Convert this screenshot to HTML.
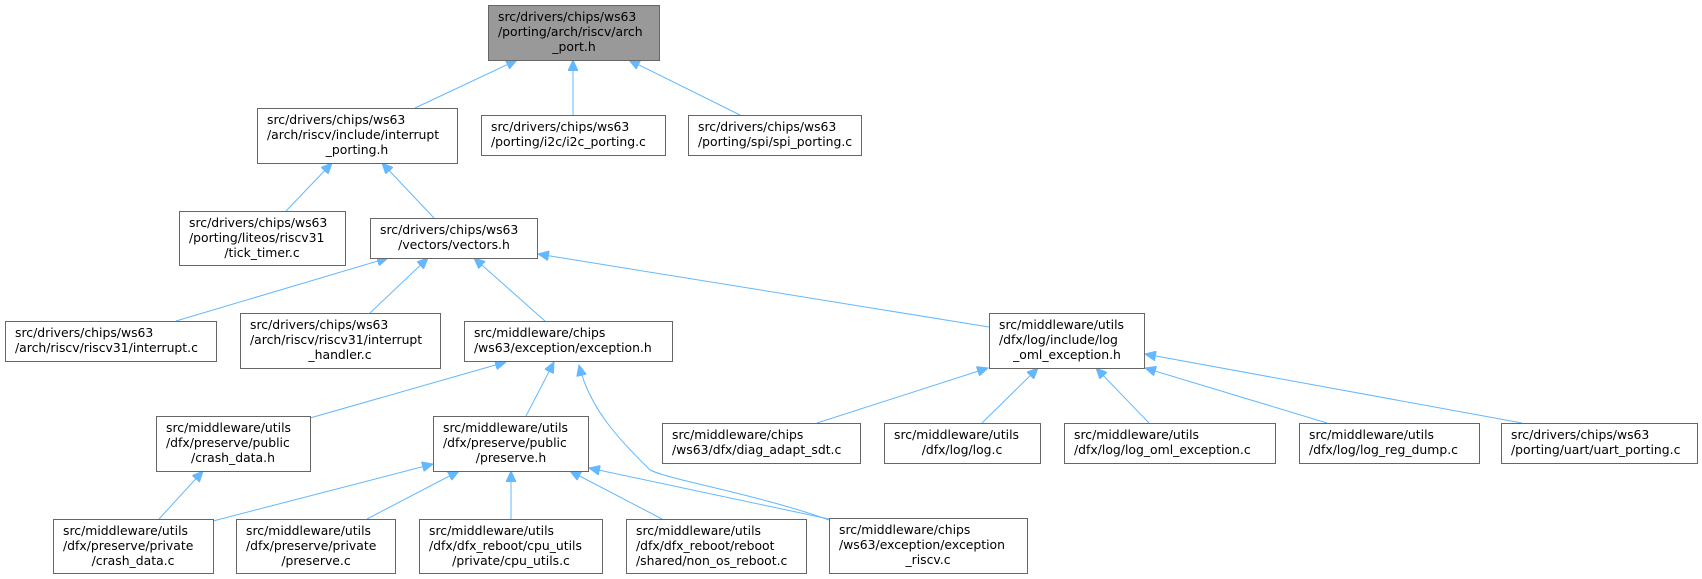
<!DOCTYPE html>
<html><head><meta charset="utf-8"><style>
html,body{margin:0;padding:0;background:#fff;}
svg{display:block;}
text{font-family:"DejaVu Sans","Liberation Sans",sans-serif;font-size:12.4px;fill:#000;}
rect{stroke:#666;stroke-width:1;fill:#fff;}
path{stroke:#63b8ff;stroke-width:1;fill:none;}
</style></head><body>
<svg width="1702" height="579" viewBox="0 0 1702 579" xmlns="http://www.w3.org/2000/svg">
<defs>
<marker id="a" markerUnits="userSpaceOnUse" markerWidth="12" markerHeight="10" refX="11" refY="5" orient="auto">
<path d="M0,0 L11,5 L0,10 Z" style="fill:#63b8ff;stroke:#63b8ff"/>
</marker>
</defs>
<path d="M415,108 L517,60" marker-end="url(#a)"/>
<path d="M573,115 L573,60" marker-end="url(#a)"/>
<path d="M740,115 L629,60" marker-end="url(#a)"/>
<path d="M286,211 L332,163" marker-end="url(#a)"/>
<path d="M434,218 L382,163" marker-end="url(#a)"/>
<path d="M176,321 L388,258" marker-end="url(#a)"/>
<path d="M370,313 L428,258" marker-end="url(#a)"/>
<path d="M545,321 L474,258" marker-end="url(#a)"/>
<path d="M989,327 L538,254" marker-end="url(#a)"/>
<path d="M310,418 L506,362" marker-end="url(#a)"/>
<path d="M526,416 L554,362" marker-end="url(#a)"/>
<path d="M829,520 C760,495 670,480 650,470 C620,440 590,410 579,365" marker-end="url(#a)"/>
<path d="M159,519 L203,471" marker-end="url(#a)"/>
<path d="M213,521 L433,464" marker-end="url(#a)"/>
<path d="M367,519 L459,471" marker-end="url(#a)"/>
<path d="M511,519 L511,471" marker-end="url(#a)"/>
<path d="M662,519 L570,471" marker-end="url(#a)"/>
<path d="M829,519 L589,468" marker-end="url(#a)"/>
<path d="M817,423 L988,368" marker-end="url(#a)"/>
<path d="M982,423 L1038,368" marker-end="url(#a)"/>
<path d="M1149,423 L1096,368" marker-end="url(#a)"/>
<path d="M1327,423 L1145,368" marker-end="url(#a)"/>
<path d="M1522,423 L1145,354" marker-end="url(#a)"/>

<rect x="488.5" y="5.5" width="171" height="55" style="fill:#999"/>
<text x="498" y="21">src/drivers/chips/ws63</text><text x="498" y="36">/porting/arch/riscv/arch</text><text x="574" y="51" text-anchor="middle">_port.h</text>

<rect x="257.5" y="108.5" width="200" height="55"/>
<text x="267" y="124">src/drivers/chips/ws63</text><text x="267" y="139">/arch/riscv/include/interrupt</text><text x="357" y="154" text-anchor="middle">_porting.h</text>

<rect x="481.5" y="115.5" width="184" height="40"/>
<text x="491" y="131">src/drivers/chips/ws63</text><text x="491" y="146">/porting/i2c/i2c_porting.c</text>

<rect x="688.5" y="115.5" width="173" height="40"/>
<text x="698" y="131">src/drivers/chips/ws63</text><text x="698" y="146">/porting/spi/spi_porting.c</text>

<rect x="179.5" y="211.5" width="166" height="54"/>
<text x="189" y="227">src/drivers/chips/ws63</text><text x="189" y="242">/porting/liteos/riscv31</text><text x="262" y="257" text-anchor="middle">/tick_timer.c</text>

<rect x="370.5" y="218.5" width="167" height="40"/>
<text x="380" y="234">src/drivers/chips/ws63</text><text x="454" y="249" text-anchor="middle">/vectors/vectors.h</text>

<rect x="5.5" y="321.5" width="211" height="40"/>
<text x="15" y="337">src/drivers/chips/ws63</text><text x="15" y="352">/arch/riscv/riscv31/interrupt.c</text>

<rect x="240.5" y="313.5" width="200" height="55"/>
<text x="250" y="329">src/drivers/chips/ws63</text><text x="250" y="344">/arch/riscv/riscv31/interrupt</text><text x="340" y="359" text-anchor="middle">_handler.c</text>

<rect x="464.5" y="321.5" width="208" height="40"/>
<text x="474" y="337">src/middleware/chips</text><text x="474" y="352">/ws63/exception/exception.h</text>

<rect x="989.5" y="313.5" width="155" height="55"/>
<text x="999" y="329">src/middleware/utils</text><text x="999" y="344">/dfx/log/include/log</text><text x="1067" y="359" text-anchor="middle">_oml_exception.h</text>

<rect x="156.5" y="416.5" width="154" height="55"/>
<text x="166" y="432">src/middleware/utils</text><text x="166" y="447">/dfx/preserve/public</text><text x="233" y="462" text-anchor="middle">/crash_data.h</text>

<rect x="433.5" y="416.5" width="155" height="55"/>
<text x="443" y="432">src/middleware/utils</text><text x="443" y="447">/dfx/preserve/public</text><text x="511" y="462" text-anchor="middle">/preserve.h</text>

<rect x="662.5" y="423.5" width="198" height="40"/>
<text x="672" y="439">src/middleware/chips</text><text x="672" y="454">/ws63/dfx/diag_adapt_sdt.c</text>

<rect x="884.5" y="423.5" width="156" height="40"/>
<text x="894" y="439">src/middleware/utils</text><text x="962" y="454" text-anchor="middle">/dfx/log/log.c</text>

<rect x="1064.5" y="423.5" width="211" height="40"/>
<text x="1074" y="439">src/middleware/utils</text><text x="1074" y="454">/dfx/log/log_oml_exception.c</text>

<rect x="1299.5" y="423.5" width="180" height="40"/>
<text x="1309" y="439">src/middleware/utils</text><text x="1309" y="454">/dfx/log/log_reg_dump.c</text>

<rect x="1501.5" y="423.5" width="196" height="40"/>
<text x="1511" y="439">src/drivers/chips/ws63</text><text x="1511" y="454">/porting/uart/uart_porting.c</text>

<rect x="53.5" y="519.5" width="160" height="54"/>
<text x="63" y="535">src/middleware/utils</text><text x="63" y="550">/dfx/preserve/private</text><text x="133" y="565" text-anchor="middle">/crash_data.c</text>

<rect x="236.5" y="519.5" width="159" height="54"/>
<text x="246" y="535">src/middleware/utils</text><text x="246" y="550">/dfx/preserve/private</text><text x="316" y="565" text-anchor="middle">/preserve.c</text>

<rect x="419.5" y="519.5" width="183" height="54"/>
<text x="429" y="535">src/middleware/utils</text><text x="429" y="550">/dfx/dfx_reboot/cpu_utils</text><text x="511" y="565" text-anchor="middle">/private/cpu_utils.c</text>

<rect x="626.5" y="519.5" width="180" height="54"/>
<text x="636" y="535">src/middleware/utils</text><text x="636" y="550">/dfx/dfx_reboot/reboot</text><text x="636" y="565">/shared/non_os_reboot.c</text>

<rect x="829.5" y="518.5" width="198" height="55"/>
<text x="839" y="534">src/middleware/chips</text><text x="839" y="549">/ws63/exception/exception</text><text x="928" y="564" text-anchor="middle">_riscv.c</text>
</svg>
</body></html>
